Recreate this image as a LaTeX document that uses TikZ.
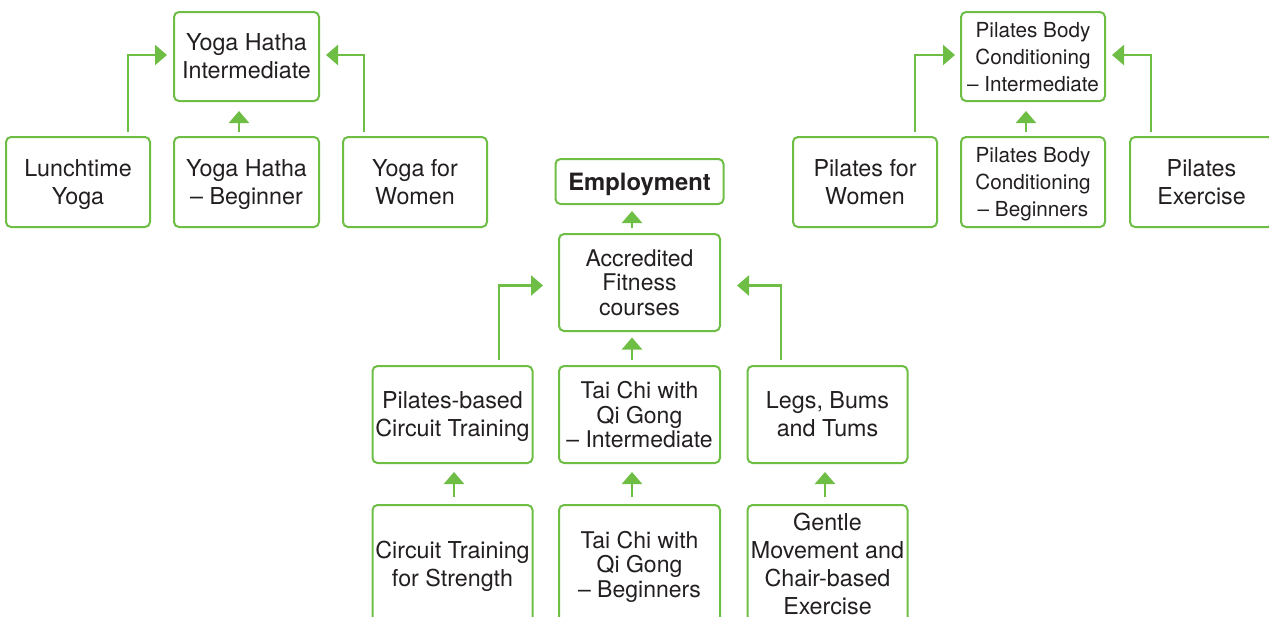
\documentclass[tikz,border=0pt]{standalone}
\usepackage{fontspec}
\setmainfont{TeX Gyre Heros}
\usetikzlibrary{arrows.meta}
\definecolor{fitgreen}{RGB}{110,189,69}
\definecolor{textdark}{RGB}{35,31,32}
\tikzset{
  box/.style={draw=fitgreen, line width=2pt, rounded corners=5pt, align=center,
    inner sep=0pt, text=textdark, text depth=0pt, font=\fontsize{23.3}{28}\selectfont},
  pbc/.style={font=\fontsize{20.7}{27}\selectfont},
  tight/.style={font=\fontsize{23}{24.5}\selectfont},
  conn/.style={draw=fitgreen, line width=2.5pt, -{Triangle[length=12pt,width=20pt]}},
}
\begin{document}
\begin{tikzpicture}[x=1pt,y=-1pt]
\useasboundingbox (0,0) rectangle (1269,616);

% Yoga pathway
\node[box, minimum width=145, minimum height=89] (yint) at (246.5,56.5) {Yoga Hatha\\Intermediate};
\node[box, minimum width=144, minimum height=90] (lunch) at (78,182) {Lunchtime\\Yoga};
\node[box, minimum width=145, minimum height=90] (ybeg) at (246.5,182) {Yoga Hatha\\– Beginner};
\node[box, minimum width=144, minimum height=90] (ywom) at (415,182) {Yoga for\\Women};

% Pilates pathway
\node[box, pbc, minimum width=144, minimum height=89] (pint) at (1033,56.5) {Pilates Body\\Conditioning\\– Intermediate};
\node[box, minimum width=144, minimum height=90] (pwom) at (865,182) {Pilates for\\Women};
\node[box, pbc, minimum width=144, minimum height=90] (pbeg) at (1033,182) {Pilates Body\\Conditioning\\– Beginners};
\node[box, minimum width=143, minimum height=90] (pex) at (1201.5,182) {Pilates\\Exercise};

% Central pathway
\node[box, font=\bfseries\fontsize{23.8}{28}\selectfont, minimum width=168, minimum height=45] (emp) at (639.5,181.5) {Employment};
\node[box, tight, minimum width=161, minimum height=97] (acc) at (639.5,282.5) {Accredited\\Fitness\\courses};
\node[box, minimum width=160, minimum height=97] (pcirc) at (452.5,414.5) {Pilates-based\\Circuit Training};
\node[box, tight, minimum width=161, minimum height=97] (tcint) at (639.5,414.5) {Tai Chi with\\Qi Gong\\– Intermediate};
\node[box, minimum width=160, minimum height=97] (legs) at (827.5,414.5) {Legs, Bums\\and Tums};
\node[box, minimum width=160, minimum height=118] (circ) at (452.5,564) {Circuit Training\\for Strength};
\node[box, tight, minimum width=161, minimum height=118] (tcbeg) at (639.5,564) {Tai Chi with\\Qi Gong\\– Beginners};
\node[box, font=\fontsize{23.3}{28}\selectfont, minimum width=160, minimum height=118] (gentle) at (827.5,564) {Gentle\\Movement and\\Chair-based\\Exercise};

% Yoga connectors
\draw[conn] ([xshift=50pt,yshift=4pt]lunch.north) |- ([xshift=-6pt,yshift=1.5pt]yint.west);
\draw[conn] ([xshift=-7.5pt,yshift=4pt]ybeg.north) -- ([xshift=-7.5pt,yshift=-9pt]yint.south);
\draw[conn] ([xshift=-51pt,yshift=4pt]ywom.north) |- ([xshift=6pt,yshift=1.5pt]yint.east);

% Pilates connectors
\draw[conn] ([xshift=50pt,yshift=4pt]pwom.north) |- ([xshift=-5pt,yshift=1.5pt]pint.west);
\draw[conn] ([xshift=-7pt,yshift=4pt]pbeg.north) -- ([xshift=-7pt,yshift=-9pt]pint.south);
\draw[conn] ([xshift=-50.5pt,yshift=4pt]pex.north) |- ([xshift=6pt,yshift=1.5pt]pint.east);

% Central connectors
\draw[conn] ([xshift=-7.5pt,yshift=5pt]acc.north) -- ([xshift=-7.5pt,yshift=-6pt]emp.south);
\draw[conn] ([xshift=46.5pt,yshift=5pt]pcirc.north) |- ([xshift=-15pt,yshift=-3pt]acc.west);
\draw[conn] ([xshift=-7.5pt,yshift=5pt]tcint.north) -- ([xshift=-7.5pt,yshift=-5.5pt]acc.south);
\draw[conn] ([xshift=-46.5pt,yshift=5pt]legs.north) |- ([xshift=16pt,yshift=-3pt]acc.east);
\draw[conn] ([xshift=1.5pt,yshift=7pt]circ.north) -- ([xshift=1.5pt,yshift=-8pt]pcirc.south);
\draw[conn] ([xshift=-7.5pt,yshift=7pt]tcbeg.north) -- ([xshift=-7.5pt,yshift=-8pt]tcint.south);
\draw[conn] ([xshift=-2.5pt,yshift=7pt]gentle.north) -- ([xshift=-2.5pt,yshift=-8pt]legs.south);
\end{tikzpicture}
\end{document}
